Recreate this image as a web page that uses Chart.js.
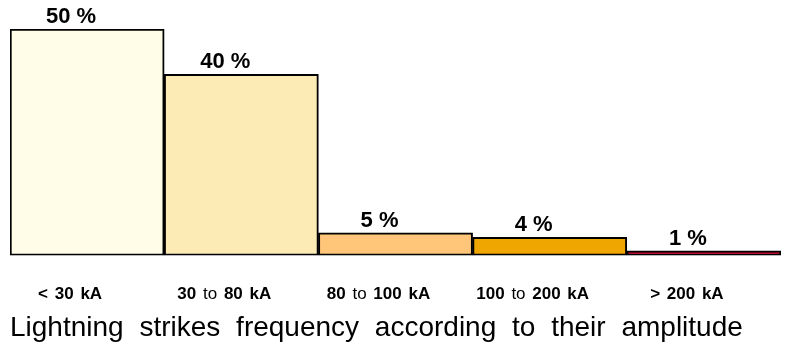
<!DOCTYPE html>
<html>
<head>
<meta charset="utf-8">
<script src="https://cdn.jsdelivr.net/npm/chart.js@4.4.0/dist/chart.umd.min.js"></script>
<style>
  html, body { margin: 0; padding: 0; background: #fff; }
  #wrap { width: 789px; height: 349px; }
</style>
</head>
<body>
<div id="wrap"><canvas id="myChart"></canvas></div>
<script>
// amplitude classes and share of strikes (%)
const categorias = ['< 30 kA', '30 to 80 kA', '80 to 100 kA', '100 to 200 kA', '> 200 kA']
const percentuais = [50, 40, 5, 4, 1]
const cores = ['#fffde8', '#fdebb6', '#ffc67a', '#efa600', '#d8002a']

const fonte = 'Liberation Sans, Arial, sans-serif'

// wider gaps between the words of the title (drawn by Chart.js)
const espacamento = {
  id: 'espacamento',
  beforeDraw(chart) {
    chart.ctx.wordSpacing = '8px'
  }
}

// value labels above each bar
const rotulosValor = {
  id: 'rotulosValor',
  afterDatasetsDraw(chart) {
    const ctx = chart.ctx
    const meta = chart.getDatasetMeta(0)
    ctx.save()
    ctx.wordSpacing = '0px'
    ctx.font = 'bold 22px ' + fonte
    ctx.fillStyle = '#000'
    ctx.textAlign = 'center'
    ctx.textBaseline = 'bottom'
    meta.data.forEach((bar, i) => {
      ctx.fillText(percentuais[i] + ' %', bar.x - 16, bar.y - 1)
    })
    ctx.restore()
  }
}

// x labels: numbers bold, "to" in regular weight
const rotulosX = {
  id: 'rotulosX',
  afterDraw(chart) {
    const ctx = chart.ctx
    const x = chart.scales.x
    const y = chart.chartArea.bottom + 39
    ctx.save()
    ctx.wordSpacing = '2px'
    ctx.fillStyle = '#000'
    ctx.textBaseline = 'middle'
    categorias.forEach((txt, i) => {
      const partes = txt.split(/( to )/).map(p => p === ' to '
        ? [{ t: ' ', b: true }, { t: 'to', b: false }, { t: ' ', b: true }]
        : [{ t: p, b: true }]).flat()
      let total = 0
      partes.forEach(p => {
        ctx.font = (p.b ? 'bold ' : '') + '17px ' + fonte
        p.w = ctx.measureText(p.t).width
        total += p.w
      })
      let px = x.getPixelForValue(i) - 17 - total / 2
      ctx.textAlign = 'left'
      partes.forEach(p => {
        ctx.font = (p.b ? 'bold ' : '') + '17px ' + fonte
        ctx.fillText(p.t, px, y)
        px += p.w
      })
    })
    ctx.restore()
  }
}

const data = {
  labels: categorias,
  datasets: [{
    data: percentuais,
    backgroundColor: cores,
    borderColor: '#000',
    borderWidth: 2,
    borderSkipped: false,
    categoryPercentage: 1,
    barPercentage: 1
  }]
}

const config = {
  type: 'bar',
  data: data,
  options: {
    responsive: true,
    maintainAspectRatio: false,
    animation: false,
    layout: { padding: { top: 29, left: 10, right: 8, bottom: 0 } },
    plugins: {
      legend: { display: false },
      tooltip: { enabled: false },
      title: {
        display: true,
        position: 'bottom',
        align: 'start',
        text: 'Lightning strikes frequency according to their amplitude',
        color: '#000',
        font: { family: fonte, size: 28, weight: 'normal' },
        padding: { top: 0, bottom: 4 }
      }
    },
    scales: {
      y: { display: false, min: 0, max: 50 },
      x: {
        grid: { display: false },
        border: { display: false },
        ticks: { display: false },
        afterFit(scale) { scale.height = 56 }
      }
    }
  },
  plugins: [espacamento, rotulosValor, rotulosX]
}

const myChart = new Chart(document.getElementById('myChart'), config)
</script>
</body>
</html>
